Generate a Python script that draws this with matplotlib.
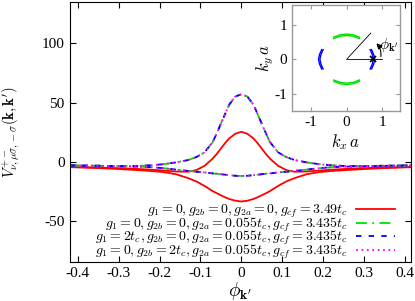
import matplotlib
matplotlib.use("Agg")
import matplotlib.pyplot as plt

plt.rcParams['font.family'] = ['Liberation Serif', 'DejaVu Serif']
plt.rcParams['mathtext.fontset'] = 'cm'

# phi_k' grid
phi = [-0.42, -0.35, -0.30, -0.25, -0.22, -0.19, -0.16, -0.13, -0.11, -0.09, -0.07, -0.06, -0.05, -0.04,
       -0.03, -0.015, 0.0, 0.015, 0.03, 0.04, 0.05, 0.06, 0.07, 0.09, 0.11, 0.13, 0.16, 0.19, 0.22,
       0.25, 0.30, 0.35, 0.42]

# red: g1=0, g2b=0, g2a=0, gcf=3.49tc  (two branches)
red_up = [-4.5, -5.0, -5.6, -6.3, -6.9, -7.6, -8.4, -8.6, -7.2, -3.6, 2.5, 6.5, 11.0, 15.5,
          19.5, 23.5, 25.2, 23.5, 19.5, 15.5, 11.0, 6.5, 2.5, -3.6, -7.2, -8.6, -8.4, -7.6, -6.9,
          -6.3, -5.6, -5.0, -4.5]
red_lo = [-4.7, -5.5, -6.3, -7.3, -8.0, -8.9, -10.7, -14.0, -16.8, -20.6, -25.0, -26.8, -28.5, -30.2,
          -31.6, -33.1, -33.8, -33.1, -31.6, -30.2, -28.5, -26.8, -25.0, -20.6, -16.8, -14.0, -10.7, -8.9,
          -8.0, -7.3, -6.3, -5.5, -4.7]

# green / blue / magenta curves coincide
g_up = [-3.2, -3.5, -3.9, -3.7, -3.1, -2.2, -0.7, 1.3, 3.8, 7.8, 16.5, 24.0, 32.0, 40.0,
        48.0, 55.0, 57.0, 55.0, 48.0, 40.0, 32.0, 24.0, 16.5, 7.8, 3.8, 1.3, -0.7, -2.2, -3.1,
        -3.7, -3.9, -3.5, -3.2]
g_lo = [-3.3, -3.6, -4.0, -4.3, -4.8, -5.6, -6.8, -7.9, -8.6, -9.2, -10.0, -10.3, -10.7, -11.1,
        -11.5, -12.0, -12.2, -12.0, -11.5, -11.1, -10.7, -10.3, -10.0, -9.2, -8.6, -7.9, -6.8, -5.6,
        -4.8, -4.3, -4.0, -3.6, -3.3]

labels = [r'$g_1=0, g_{2b}=0, g_{2a}=0, g_{cf}=3.49t_c$',
          r'$g_1=0, g_{2b}=0, g_{2a}=0.055t_c, g_{cf}=3.435t_c$',
          r'$g_1=2t_c, g_{2b}=0, g_{2a}=0.055t_c, g_{cf}=3.435t_c$',
          r'$g_1=0, g_{2b}=2t_c, g_{2a}=0.055t_c, g_{cf}=3.435t_c$']

# inset: Fermi surface pockets (kx a, ky a)
blue_r_x = [0.66, 0.72, 0.75, 0.72, 0.66]
blue_r2_x = [0.70, 0.76, 0.79, 0.76, 0.70]
blue_y = [-0.28, -0.14, 0.0, 0.14, 0.28]
green_x = [-0.36, -0.18, 0.0, 0.18, 0.36]
green_t_y = [0.64, 0.71, 0.73, 0.71, 0.64]
green_t2_y = [0.60, 0.67, 0.69, 0.67, 0.60]
kp_x, kp_y = 0.75, 0.0

fig = plt.figure(figsize=(4.15, 3.01), dpi=100)
ax = fig.add_axes([0.1675, 0.1296, 0.8221, 0.8634])

ax.plot(phi, red_up, color='#ff0000', lw=1.3, label=labels[0])
ax.plot(phi, red_lo, color='#ff0000', lw=1.3)
ax.plot(phi, g_up, color='#00e000', lw=1.3, dashes=[6, 3, 1, 3], label=labels[1])
ax.plot(phi, g_lo, color='#00e000', lw=1.3, dashes=[6, 3, 1, 3])
ax.plot(phi, g_up, color='#0000ff', lw=1.3, dashes=[3, 4], label=labels[2])
ax.plot(phi, g_lo, color='#0000ff', lw=1.3, dashes=[3, 4])
ax.plot(phi, g_up, color='#ff00ff', lw=1.3, dashes=[1, 2], label=labels[3])
ax.plot(phi, g_lo, color='#ff00ff', lw=1.3, dashes=[1, 2])

ax.set_xlim(-0.42, 0.414)
ax.set_ylim(-85, 135)
ax.set_xticks([-0.4, -0.3, -0.2, -0.1, 0, 0.1, 0.2, 0.3, 0.4])
ax.set_xticklabels(['-0.4', '-0.3', '-0.2', '-0.1', '0', '0.1', '0.2', '0.3', '0.4'])
ax.set_yticks([-50, 0, 50, 100])
ax.set_yticklabels(['-50', '0', '50', '100'])
ax.tick_params(direction='in', top=True, right=True, labelsize=11, length=4)
ax.set_xlabel(r"$\phi_{\mathbf{k}'}$", fontsize=14, labelpad=0)
ax.set_ylabel(r"$V^{+-}_{\nu,\mu\sigma,-\sigma}(\mathbf{k},\mathbf{k}')$", fontsize=10.5)
ax.yaxis.set_label_coords(-0.138, 0.5)

ax.legend(loc='lower right', bbox_to_anchor=(0.97, -0.018), frameon=False, fontsize=10,
          markerfirst=False, handlelength=2.8, handletextpad=0.6, labelspacing=-0.33,
          borderaxespad=0)

# inset
ins = fig.add_axes([0.703, 0.631, 0.261, 0.352])
for x2 in (blue_r_x, blue_r2_x):
    ins.plot(x2, blue_y, color='#0000ff', lw=1.0)
    ins.plot([-v for v in x2], blue_y, color='#0000ff', lw=1.0)
for y2 in (green_t_y, green_t2_y):
    ins.plot(green_x, y2, color='#00e000', lw=1.0)
    ins.plot(green_x, [-v for v in y2], color='#00e000', lw=1.0)
ins.plot([0, 0.98], [0, 0], color='black', lw=0.6)
ins.plot([0, 0.68], [0, 0.76], color='black', lw=0.6)
ins.plot([kp_x], [kp_y], marker='x', color='black', ms=5, mew=1.2)
ins.annotate('', xy=(0.78, 0.52), xytext=(0.95, 0.0),
             arrowprops=dict(arrowstyle='-|>', color='black', lw=0.8,
                             connectionstyle='arc3,rad=0.3', mutation_scale=8))
ins.text(0.9, 0.42, r"$\phi_{\mathbf{k}'}$", fontsize=11, ha='left', va='center')
ins.set_xlim(-1.54, 1.5)
ins.set_ylim(-1.5, 1.57)
ins.set_xticks([-1, 0, 1])
ins.set_yticks([-1, 0, 1])
ins.set_xticklabels(['-1', '0', '1'])
ins.set_yticklabels(['-1', '0', '1'])
ins.tick_params(direction='in', top=True, right=True, labelsize=11, length=3, color='#999999')
for s in ins.spines.values():
    s.set_color('#999999')
    s.set_linewidth(1.0)
ins.set_xlabel(r'$k_x\,a$', fontsize=12, labelpad=2)
ins.set_ylabel(r'$k_y\,a$', fontsize=12, labelpad=-1)

fig.savefig('out.png', dpi=100)
